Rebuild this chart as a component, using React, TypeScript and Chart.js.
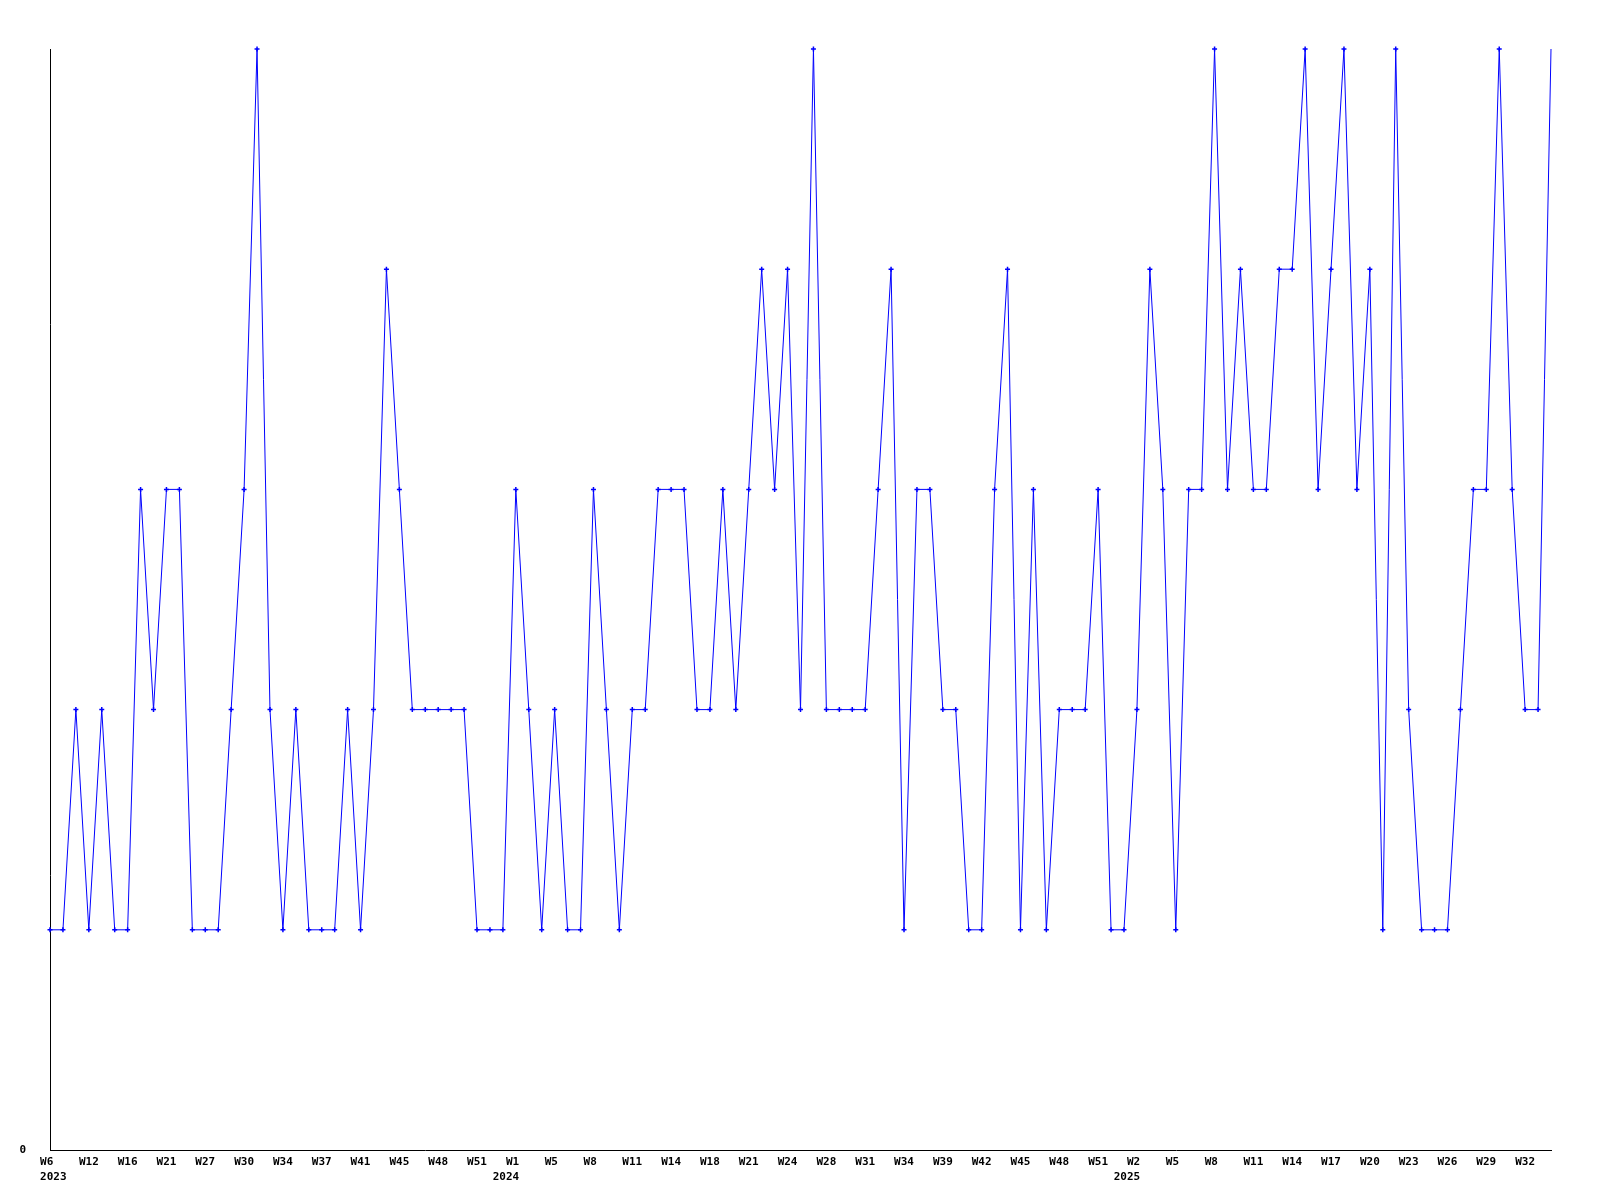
import React, { useEffect, useRef } from "react";
import { Chart, registerables } from "chart.js";

Chart.register(...registerables);

const weeks: string[] = [
  "W6", "W8", "W10", "W12", "W13", "W15", "W16", "W18", "W19", "W21", "W23", "W25",
  "W27", "W28", "W29", "W30", "W31", "W33", "W34", "W35", "W36", "W37", "W38", "W40",
  "W41", "W42", "W44", "W45", "W46", "W47", "W48", "W49", "W50", "W51", "W52", "W53",
  "W1", "W2", "W4", "W5", "W6", "W7", "W8", "W9", "W10", "W11", "W12", "W13",
  "W14", "W15", "W17", "W18", "W19", "W20", "W21", "W22", "W23", "W24", "W25", "W27",
  "W28", "W29", "W30", "W31", "W32", "W33", "W34", "W36", "W38", "W39", "W40", "W41",
  "W42", "W43", "W44", "W45", "W46", "W47", "W48", "W49", "W50", "W51", "W52", "W1",
  "W2", "W3", "W4", "W5", "W6", "W7", "W8", "W9", "W10", "W11", "W12", "W13",
  "W14", "W15", "W16", "W17", "W18", "W19", "W20", "W21", "W22", "W23", "W24", "W25",
  "W26", "W27", "W28", "W29", "W30", "W31", "W32", "W33", "W34",
];

// year shown under the first labelled week of each year
const yearMarks: [number, string][] = [
  [0, "2023"],
  [36, "2024"],
  [84, "2025"],
];

const values: number[] = [
  1, 1, 2, 1, 2, 1, 1, 3, 2, 3, 3, 1,
  1, 1, 2, 3, 5, 2, 1, 2, 1, 1, 1, 2,
  1, 2, 4, 3, 2, 2, 2, 2, 2, 1, 1, 1,
  3, 2, 1, 2, 1, 1, 3, 2, 1, 2, 2, 3,
  3, 3, 2, 2, 3, 2, 3, 4, 3, 4, 2, 5,
  2, 2, 2, 2, 3, 4, 1, 3, 3, 2, 2, 1,
  1, 3, 4, 1, 3, 1, 2, 2, 2, 3, 1, 1,
  2, 4, 3, 1, 3, 3, 5, 3, 4, 3, 3, 4,
  4, 5, 3, 4, 5, 3, 4, 1, 5, 2, 1, 1,
  1, 2, 3, 3, 5, 3, 2, 2, 5,
];

const labelEvery = 3;

// monospace label layout: pad week labels to 3 chars, align year text to the week text
function weekText(w: string): string {
  return w.length < 3 ? w + " " : w;
}
function yearText(idx: number, y: string): string {
  return idx === 0 ? " " + y : y + "   ";
}

export default function App() {
  const ref = useRef<HTMLCanvasElement | null>(null);

  useEffect(() => {
    if (!ref.current) return;
    const yearMap = new Map(yearMarks);
    const labels = weeks.map((w, i) =>
      yearMap.has(i) ? [weekText(w), yearText(i, yearMap.get(i) as string)] : weekText(w)
    );
    const lastIdx = values.length - 1;
    const chart = new Chart(ref.current, {
      type: "line",
      data: {
        labels,
        datasets: [
          {
            data: values,
            borderColor: "#0000ff",
            backgroundColor: "#0000ff",
            borderWidth: 1,
            pointStyle: "cross",
            pointRadius: (ctx: any) => (ctx.dataIndex === lastIdx ? 0 : 2.5),
            pointHoverRadius: 2.5,
            pointBorderWidth: 1.5,
            pointBorderColor: "#0000ff",
            tension: 0,
            fill: false,
            clip: false as any,
          },
        ],
      },
      options: {
        responsive: false,
        animation: false,
        layout: { padding: { top: 41, right: 41, left: 0, bottom: 0 } },
        plugins: { legend: { display: false }, tooltip: { enabled: false } },
        scales: {
          x: {
            type: "category",
            offset: false,
            grid: { display: false, drawTicks: false },
            border: { display: true, color: "#000", width: 1 },
            ticks: {
              autoSkip: false,
              maxRotation: 0,
              minRotation: 0,
              padding: 5,
              color: "#000",
              font: { family: "DejaVu Sans Mono", size: 11, weight: "bold", lineHeight: 1.35 },
              callback: function (this: any, _v: any, idx: number) {
                return idx % labelEvery === 0 ? labels[idx] : "";
              },
            },
            afterFit: (scale: any) => {
              scale.height = 42;
            },
          },
          y: {
            min: 0,
            max: 5,
            grid: { display: false, drawTicks: false },
            border: { display: true, color: "#000", width: 1 },
            ticks: {
              stepSize: 1,
              padding: 24,
              color: "#000",
              font: { family: "DejaVu Sans Mono", size: 11, weight: "bold" },
              callback: (v: any) => (Number(v) === 0 ? "0" : ""),
            },
            afterFit: (scale: any) => {
              scale.width = 42;
            },
          },
        },
      },
    });
    return () => chart.destroy();
  }, []);

  return (
    <div style={{ width: 1584, height: 1184 }}>
      <canvas ref={ref} width={1584} height={1184} style={{ display: "block" }} />
    </div>
  );
}
